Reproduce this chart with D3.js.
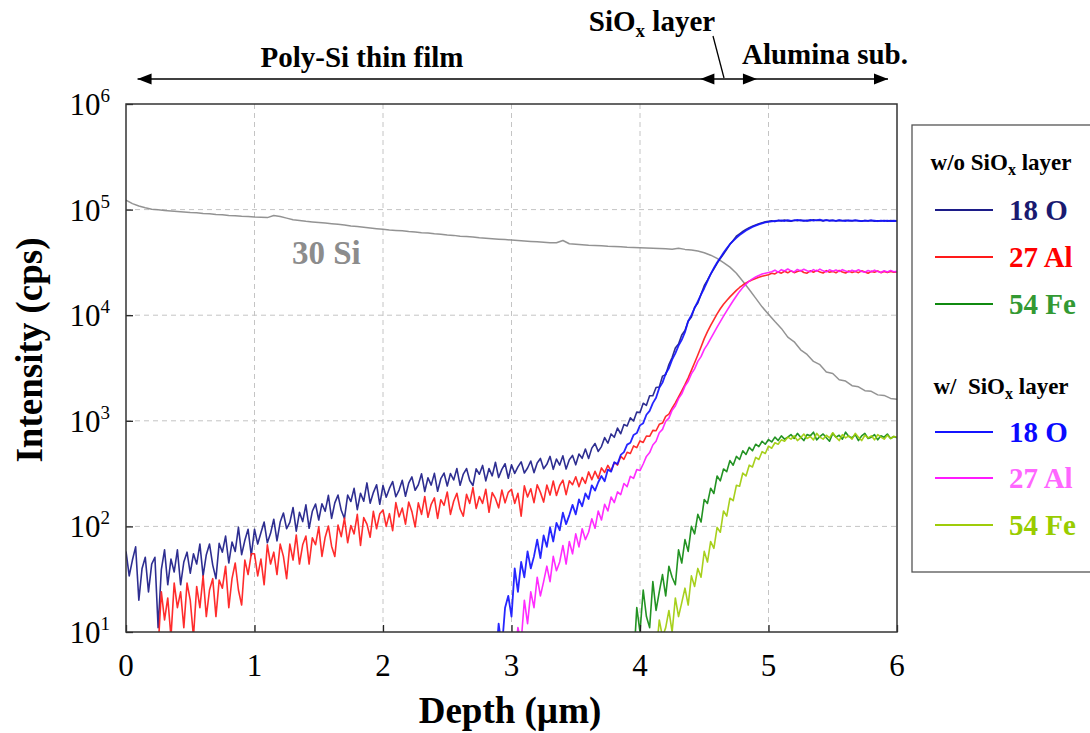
<!DOCTYPE html>
<html>
<head>
<meta charset="utf-8">
<script src="https://cdn.jsdelivr.net/npm/d3@7/dist/d3.min.js"></script>
<style>
  html, body { margin: 0; padding: 0; background: #fff; }
  svg { display: block; }
  text { font-family: "Liberation Serif", "Times New Roman", serif; }
</style>
</head>
<body>
<svg id="chart" width="1090" height="733"></svg>
<script>
// ---- Depth profile data (SIMS, intensity in counts per second) ----
// Each profile is sampled on a uniform depth grid: start depth + step (µm).
const stepFine = 0.025;
const stepSi = 0.05;

// 30 Si (matrix signal)
const si30Start = 0;
const si30 = [
  123000,114000,108000,104000,101000,99500,98000,97000,96000,95000,
  94000,93500,92000,91500,90000,89500,88000,87500,86500,86000,
  85000,84500,84000,88000,86000,83000,80000,79000,77500,76500,
  75500,74500,73500,72500,71500,70000,69000,68000,67000,66000,
  65000,64000,63500,63000,62000,61500,60500,60000,59000,58500,
  57500,57000,56000,55500,55000,54000,53500,53000,52500,52000,
  51500,51000,50500,50000,49500,49000,48500,48500,51000,47500,
  47000,46500,46000,45800,45500,45000,44800,44500,44000,43800,
  43500,43200,43000,42800,42500,42200,43000,42000,41500,40500,
  39000,37000,34500,31500,28500,25000,21000,17500,14500,12000,
  10200,8700,7500,6200,5600,4700,4250,3650,3400,2900,
  2800,2450,2380,2150,2100,1930,1900,1760,1740,1630,
  1600
];

// w/o SiOx layer
const o18WithoutStart = 0;
const o18Without = [
  58,34,48,64,20,40,51,24,44,51,
  11,39,60,28,49,37,60,28,46,57,
  36,55,44,68,34,54,68,43,32,69,
  57,81,45,71,58,98,54,74,94,53,
  94,68,87,110,70,86,117,73,110,134,
  95,109,151,90,136,111,160,96,139,163,
  115,164,139,197,119,167,198,142,119,198,
  172,229,144,206,173,258,166,209,248,162,
  244,189,229,266,191,221,273,193,257,294,
  220,248,315,214,289,246,318,215,283,320,
  241,317,275,353,245,313,353,272,244,351,
  312,378,270,353,301,405,290,347,392,286,
  383,318,366,409,320,357,416,323,398,440,
  352,387,460,347,434,381,466,349,427,470,
  383,484,441,540,440,551,610,513,570,693,
  614,751,698,853,754,922,893,1069,996,1209,
  1197,1466,1401,1728,1728,2069,2090,2650,2736,3413,
  3977,4888,5335,6489,7154,8755,9603,11845,13034,15810,
  19000,21500,24500,27500,31000,34500,38000,42000,47000,51000,
  56000,59000,62000,65000,67500,69500,71500,73500,75000,76500,
  77500,78500,77000,79000,78000,79500,78200,77600,79200,78400,
  79800,78000,79000,78600,80000,78800,79400,78200,79600,78800,
  79200,78000,79000,78400,79400,78600,78000,79200,78400,77800,
  78800,78200,79000,77600,78400,78000,78800,77800,78600,78200,
  78000
];

const al27WithoutStart = 0.25;
const al27Without = [
  7,24,13,21,9,29,17,24,11,29,
  20,9,27,17,34,14,25,32,14,31,
  26,42,17,32,45,25,18,48,35,55,
  55,34,49,28,67,44,57,35,68,52,
  32,68,48,83,44,67,81,44,78,67,
  99,52,79,101,65,52,103,80,120,70,
  102,85,130,66,121,105,79,139,95,132,
  143,100,132,91,168,123,149,105,170,138,
  99,167,130,192,122,162,186,119,179,158,
  212,130,173,206,146,125,201,165,233,148,
  192,165,225,136,209,184,150,221,167,210,
  224,165,206,125,242,190,227,168,248,210,
  170,246,198,269,196,244,274,200,270,248,
  295,238,291,256,328,277,332,284,358,324,
  378,336,403,381,460,432,504,490,578,557,
  645,624,718,713,811,805,927,951,1102,1156,
  1320,1480,1680,1920,2200,2550,3000,3550,4200,5000,
  6000,7000,8000,9100,10300,11500,12700,13800,14900,16000,
  17200,18300,19300,20200,21000,21700,22300,22900,23400,23800,
  24200,25000,24600,25700,25000,26100,25200,26300,25300,25900,
  26500,25400,25000,26300,25500,26600,25600,25100,26400,25500,
  26000,25200,26500,25700,25100,26200,25400,26000,25300,26300,
  25600,25000,26000,25500,26200,25300,25900,25400,26000,25500,
  25700
];

const fe54WithoutStart = 3.95;
const fe54Without = [
  5,17,10,25,14,11,30,16,24,35,
  22,42,33,28,60,45,75,58,100,85,
  130,110,180,165,230,205,300,270,350,330,
  420,380,460,430,520,480,560,520,600,570,
  640,600,665,630,700,650,720,670,700,740,
  680,760,700,650,740,720,780,660,710,750,
  690,640,760,700,730,670,780,710,690,740,
  650,720,760,680,700,740,660,720,700,750,
  680,710,690
];

// w/ SiOx layer
const o18WithStart = 2.875;
const o18With = [
  4,12,7,17,22,14,40,24,46,33,
  58,40,52,75,50,82,64,98,72,108,
  92,135,105,128,160,130,180,155,205,182,
  245,218,262,300,268,345,330,405,390,475,
  505,595,620,735,765,905,950,1140,1240,1470,
  1650,2050,2300,2800,3150,3800,4350,5150,5850,6900,
  8800,10000,11700,13500,15700,18000,21000,24500,28000,31500,
  35000,39000,43000,47000,50500,54000,57500,60500,63500,66000,
  68500,70500,72500,74000,75500,76500,77500,78000,78500,79000,
  78000,79500,78200,79000,80000,78500,79200,78000,79800,78600,
  79400,80200,78800,79600,78400,79000,78200,79500,78800,78000,
  79200,78600,79000,78400,77800,78800,78200,79000,78400,77600,
  78600,78000,78800,77800,78400,78000
];

const al27WithStart = 3.025;
const al27With = [
  6,11,8,20,12,24,17,33,22,30,
  42,30,52,38,46,66,44,72,55,85,
  64,95,75,88,118,96,140,115,162,140,
  190,168,212,200,255,238,298,285,345,338,
  390,460,500,590,640,770,830,990,1060,1260,
  1380,1620,1800,2130,2370,2780,3100,3650,4050,4750,
  5300,6000,6800,7700,8700,9800,11000,12300,13700,15200,
  16800,18300,19700,21000,22100,23000,23800,24500,25000,25400,
  25800,26700,25500,27000,26200,27400,26300,25700,27100,26200,
  27200,26400,25800,27000,26100,27300,26300,25700,26900,26100,
  26800,25900,27000,26200,25600,26700,26000,26900,25900,25500,
  26500,25800,26700,25900,25400,26400,25700,26500,25800,26000
];

const fe54WithStart = 4.125;
const fe54With = [
  6,13,9,11,16,10,21,14,19,26,
  18,34,27,40,33,58,46,72,62,98,
  88,140,125,185,175,245,240,320,300,380,
  365,450,430,510,490,575,550,620,600,660,
  640,700,670,720,650,690,750,680,710,660,
  760,700,670,730,690,770,700,650,740,690,
  720,670,760,700,650,730,690,720,660,740,
  700,670,730,680,710,700
];

// Axis ticks and annotation positions (depth, µm)
const depthTicks = [0, 1, 2, 3, 4, 5, 6];
const intensityExponents = [1, 2, 3, 4, 5, 6];
const polySiSpan = [0.09, 4.47];
const sioxSpan = [4.47, 4.91];
const aluminaSpan = [4.91, 5.93];

// ---- Layout ----
const plot = { left: 126, right: 897, top: 104, bottom: 632 };

const svg = d3.select("#chart");
const x = d3.scaleLinear().domain([0, 6]).range([plot.left, plot.right]);
const y = d3.scaleLog().domain([10, 1e6]).range([plot.bottom, plot.top]);

function toPoints(start, step, values) {
  return values.map((v, i) => [start + i * step, v]);
}

const series = [
  { pts: toPoints(si30Start, stepSi, si30), color: "#8a8a8a", w: 1.5 },
  { pts: toPoints(o18WithoutStart, stepFine, o18Without), color: "#1c1c88", w: 1.6 },
  { pts: toPoints(al27WithoutStart, stepFine, al27Without), color: "#ff1a1a", w: 1.6 },
  { pts: toPoints(fe54WithoutStart, stepFine, fe54Without), color: "#108a10", w: 1.6 },
  { pts: toPoints(o18WithStart, stepFine, o18With), color: "#1414ff", w: 1.8 },
  { pts: toPoints(al27WithStart, stepFine, al27With), color: "#ff1aff", w: 1.6 },
  { pts: toPoints(fe54WithStart, stepFine, fe54With), color: "#9fcc0a", w: 1.6 }
];

// ---- Grid ----
const grid = svg.append("g").attr("stroke", "#c4c4c4").attr("stroke-width", 1)
  .attr("stroke-dasharray", "5,4");
depthTicks.filter(d => d > 0 && d < 6).forEach(d => {
  grid.append("line").attr("x1", x(d)).attr("x2", x(d))
    .attr("y1", plot.top).attr("y2", plot.bottom);
});
intensityExponents.filter(e => e > 1 && e < 6).forEach(e => {
  grid.append("line").attr("x1", plot.left).attr("x2", plot.right)
    .attr("y1", y(Math.pow(10, e))).attr("y2", y(Math.pow(10, e)));
});

// ---- Data lines ----
svg.append("clipPath").attr("id", "plotClip").append("rect")
  .attr("x", plot.left).attr("y", plot.top)
  .attr("width", plot.right - plot.left).attr("height", plot.bottom - plot.top);

const line = d3.line().x(d => x(d[0])).y(d => y(Math.max(d[1], 5)));
const lines = svg.append("g").attr("clip-path", "url(#plotClip)");
series.forEach(s => {
  lines.append("path").datum(s.pts)
    .attr("fill", "none").attr("stroke", s.color)
    .attr("stroke-width", s.w).attr("stroke-linejoin", "round")
    .attr("stroke-opacity", 0.92)
    .attr("d", line);
});

// ---- Axes (inward ticks) ----
const xAxis = d3.axisBottom(x).tickValues(depthTicks).tickSize(-7).tickFormat("");
svg.append("g").attr("transform", `translate(0,${plot.bottom})`).call(xAxis)
  .call(g => g.select(".domain").remove())
  .selectAll("line").attr("stroke", "#222").attr("stroke-width", 1.3);
const yAxis = d3.axisLeft(y).tickValues(intensityExponents.map(e => Math.pow(10, e)))
  .tickSize(-7).tickFormat("");
svg.append("g").attr("transform", `translate(${plot.left},0)`).call(yAxis)
  .call(g => g.select(".domain").remove())
  .selectAll("line").attr("stroke", "#222").attr("stroke-width", 1.3);

// frame
svg.append("rect").attr("x", plot.left).attr("y", plot.top)
  .attr("width", plot.right - plot.left).attr("height", plot.bottom - plot.top)
  .attr("fill", "none").attr("stroke", "#333").attr("stroke-width", 1.5);

// x tick labels
svg.append("g").selectAll("text").data(depthTicks).join("text")
  .attr("x", d => x(d)).attr("y", 676)
  .attr("text-anchor", "middle").attr("font-size", 31).attr("fill", "#000")
  .text(d => d);

// y tick labels: 10 with superscript exponent
const yl = svg.append("g").selectAll("text").data(intensityExponents).join("text")
  .attr("x", 110).attr("y", e => y(Math.pow(10, e)) + 11)
  .attr("text-anchor", "end").attr("font-size", 31).attr("fill", "#000");
yl.append("tspan").text("10");
yl.append("tspan").attr("font-size", 19).attr("dy", -13).text(e => e);

// axis titles
svg.append("text").attr("x", 510).attr("y", 723).attr("text-anchor", "middle")
  .attr("font-size", 37).attr("font-weight", "bold").text("Depth (µm)");
svg.append("text").attr("transform", "translate(42,350) rotate(-90)")
  .attr("text-anchor", "middle").attr("font-size", 37).attr("font-weight", "bold")
  .text("Intensity (cps)");

// 30 Si label
svg.append("text").attr("x", 292).attr("y", 264).attr("font-size", 33)
  .attr("font-weight", "bold").attr("fill", "#8c8c8c").text("30 Si");

// ---- Layer annotations above the plot ----
const arrowY = 79;
const ann = svg.append("g");
ann.append("line").attr("x1", x(polySiSpan[0])).attr("x2", x(aluminaSpan[1]))
  .attr("y1", arrowY).attr("y2", arrowY).attr("stroke", "#000").attr("stroke-width", 1.6);
function head(tipX, dir) {
  const len = 14, half = 5.5;
  ann.append("path")
    .attr("d", `M${tipX},${arrowY} L${tipX - dir * len},${arrowY - half} L${tipX - dir * len},${arrowY + half} Z`)
    .attr("fill", "#000");
}
head(x(polySiSpan[0]), -1);
head(x(sioxSpan[0]), -1);
head(x(sioxSpan[1]), 1);
head(x(aluminaSpan[1]), 1);

ann.append("text").attr("x", 362).attr("y", 67)
  .attr("text-anchor", "middle").attr("font-size", 29).attr("font-weight", "bold")
  .text("Poly-Si thin film");
ann.append("text").attr("x", 825).attr("y", 64).attr("text-anchor", "middle")
  .attr("font-size", 29).attr("font-weight", "bold").text("Alumina sub.");
const sioxLabel = ann.append("text").attr("x", 652).attr("y", 31).attr("text-anchor", "middle")
  .attr("font-size", 29).attr("font-weight", "bold");
sioxLabel.append("tspan").text("SiO");
sioxLabel.append("tspan").attr("font-size", 19).attr("dy", 6).text("x");
sioxLabel.append("tspan").attr("dy", -6).text(" layer");
ann.append("line").attr("x1", 713).attr("y1", 36).attr("x2", 724).attr("y2", 78)
  .attr("stroke", "#000").attr("stroke-width", 1.3);

// ---- Legend ----
const lg = svg.append("g");
lg.append("rect").attr("x", 912).attr("y", 125).attr("width", 200).attr("height", 447)
  .attr("fill", "#fff").attr("stroke", "#555").attr("stroke-width", 1.3);

function legendTitle(yPos, prefix) {
  const t = lg.append("text").attr("x", 1001).attr("y", yPos).attr("text-anchor", "middle")
    .attr("font-size", 23).attr("font-weight", "bold").attr("fill", "#000");
  t.append("tspan").text(prefix + "SiO");
  t.append("tspan").attr("font-size", 16).attr("dy", 5).text("x");
  t.append("tspan").attr("dy", -5).text(" layer");
}
legendTitle(170, "w/o ");
legendTitle(394, "w/\u00a0 ");

const legendItems = [
  { label: "18 O", y: 210, line: "#1c1c88", text: "#1a1a70" },
  { label: "27 Al", y: 257, line: "#ff1a1a", text: "#ff0000" },
  { label: "54 Fe", y: 304, line: "#108a10", text: "#339933" },
  { label: "18 O", y: 432, line: "#1414ff", text: "#0a0aff" },
  { label: "27 Al", y: 478, line: "#ff1aff", text: "#ff66ff" },
  { label: "54 Fe", y: 525, line: "#9fcc0a", text: "#99cc00" }
];
legendItems.forEach(it => {
  lg.append("line").attr("x1", 935).attr("x2", 993).attr("y1", it.y).attr("y2", it.y)
    .attr("stroke", it.line).attr("stroke-width", 2);
  lg.append("text").attr("x", 1009).attr("y", it.y + 10).attr("font-size", 29)
    .attr("font-weight", "bold").attr("fill", it.text).text(it.label);
});
</script>
</body>
</html>
